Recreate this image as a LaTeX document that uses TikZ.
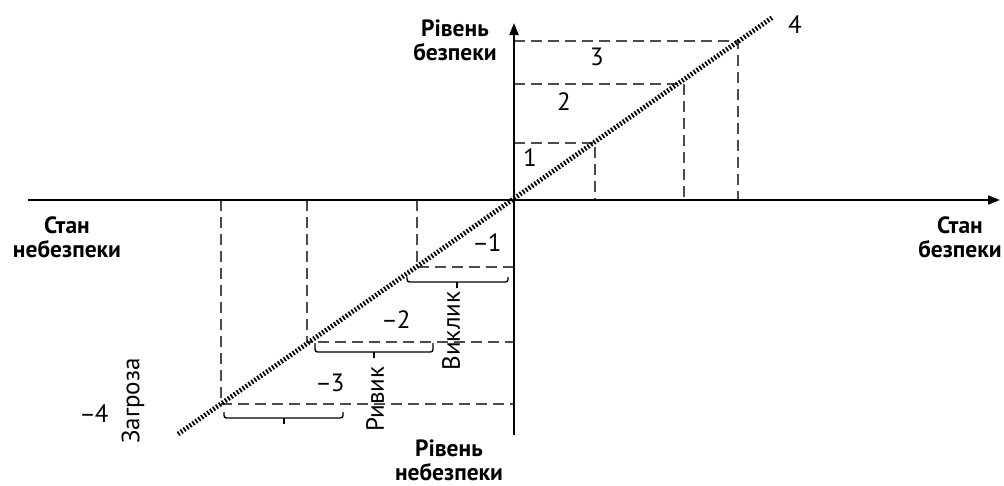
\documentclass[tikz,border=0pt]{standalone}
\usepackage{fontspec}
\setmainfont{PT Sans}
\usetikzlibrary{arrows.meta}
\tikzset{
  axis/.style={line width=2pt, -{Triangle[length=12pt,width=9pt]}},
  guide/.style={line width=1.3pt, black!70, dash pattern=on 11pt off 6pt},
  diag/.style={line width=4.8pt, dash pattern=on 1.7pt off 1.9pt},
  brace/.style={line width=1.4pt, rounded corners=2.5pt},
  title/.style={font=\fontsize{23.5}{24}\selectfont\bfseries, align=center},
  num/.style={font=\fontsize{25}{26}\selectfont},
}
\begin{document}
\begin{tikzpicture}[x=1pt,y=-1pt]
\useasboundingbox (0,0) rectangle (1004,485);
\coordinate (O) at (514,200);
\coordinate (xl) at (28,200);
\coordinate (xr) at (1000,200);
\coordinate (yb) at (514,435);
\coordinate (yt) at (514,23);
% levels of safety
\foreach \x/\y in {595/143, 684/84, 738/41}
  \draw[guide] (514,\y) -| (\x,200);
% levels of danger
\foreach \x/\y in {417/267, 307/342, 221/404}
  \draw[guide] (\x,200) |- (514,\y);
% axes
\draw[axis] (xl) -- (xr);
\draw[axis] (yb) -- (yt);
% diagonal
\coordinate (d0) at (178,434);
\coordinate (d1) at (773,17);
\draw[diag] (d0) -- (d1);
% braces
\foreach \a/\b/\m/\t/\l in {407/508/457/277/282, 315/433/374/343/352, 224/343/284/412/418}{
  \draw[brace] (\a,\t) |- (\b,\l) -- (\b,\t);
  \draw[line width=1.4pt] (\m,\l) -- ++(0,6);
}
\node[num, rotate=90] (call) at (451,331) {Виклик};
\node[num, rotate=90] (risk) at (375,399) {Ривик};
\node[num, rotate=90] (threat) at (133,401) {Загроза};
% level numbers
\node[num] (n1) at (530,158) {1};
\node[num] (n2) at (564,102) {2};
\node[num] (n3) at (597,57) {3};
\node[num] (n4) at (795,25) {4};
\node[num] (m1) at (487,243) {–\kern-1pt1};
\node[num] (m2) at (396,320) {–\kern-1pt2};
\node[num] (m3) at (330,383) {–\kern-1pt3};
\node[num] (m4) at (94,414) {–\kern-1pt4};
% axis titles
\node[title] (ysafe) at (455,40) {Рівень\\безпеки};
\node[title] (ydanger) at (449,460) {Рівень\\небезпеки};
\node[title] (xdanger) at (67,237) {Стан\\небезпеки};
\node[title] (xsafe) at (960,237) {Стан\\безпеки};
\end{tikzpicture}
\end{document}
